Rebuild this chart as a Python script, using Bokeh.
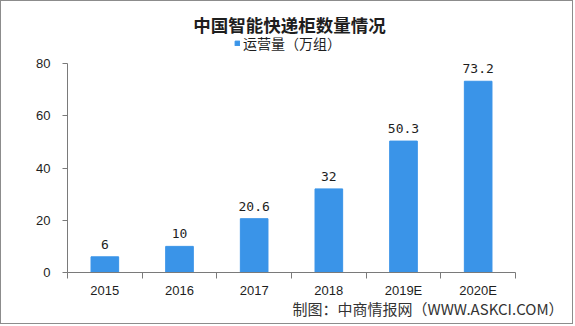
from bokeh.plotting import figure
from bokeh.models import (Range1d, FixedTicker, Label, LabelSet, ColumnDataSource,
                          Legend, LegendItem)
from bokeh.core.properties import value
from bokeh.embed import file_html
from bokeh.resources import INLINE

# ---- data ----
categories = ["2015", "2016", "2017", "2018", "2019E", "2020E"]
values = [6, 10, 20.6, 32, 50.3, 73.2]
value_labels = ["6", "10", "20.6", "32", "50.3", "73.2"]
y_ticks = [0, 20, 40, 60, 80]
title_text = "中国智能快递柜数量情况"
series_name = "运营量（万组）"
source_text = "制图：中商情报网（WWW.ASKCI.COM）"

BLUE = "#3a94e8"
AXIS = "#7a7a7a"
TXT = "#1e1e1e"

# layout (pixels)
W, H = 573, 324
LEFT, RIGHT = 66, 514          # frame left/right
AXIS_TOP, BOTTOM = 62, 271     # y of top tick, y of x-axis (canvas, from top)
y_end = y_ticks[-1] * BOTTOM / (BOTTOM - AXIS_TOP)

xs = [i + 0.5 for i in range(len(categories))]
src = ColumnDataSource(dict(x=xs, top=values, lab=value_labels, cat=categories))

p = figure(width=W, height=H, output_backend="svg", toolbar_location=None,
           x_range=Range1d(0, len(categories)), y_range=Range1d(0, y_end),
           min_border_left=LEFT, min_border_right=W - RIGHT, min_border_top=0,
           min_border_bottom=H - BOTTOM)
p.styles = {"border": "1px solid #8c8c8c"}
p.outline_line_color = None
p.xgrid.visible = False
p.ygrid.visible = False
p.background_fill_color = "white"
p.border_fill_color = "white"

r = p.vbar(x="x", top="top", width=0.37, source=src, color=BLUE)

# axes
xa = p.xaxis[0]
xa.ticker = FixedTicker(ticks=xs, minor_ticks=list(range(len(categories) + 1)))
xa.major_label_overrides = {x: c for x, c in zip(xs, categories)}
xa.major_tick_line_color = None
xa.major_tick_out = 0
xa.major_tick_in = 0
xa.minor_tick_out = 6
xa.minor_tick_in = 0
xa.minor_tick_line_color = AXIS
xa.axis_line_color = AXIS
xa.major_label_standoff = 4
xa.major_label_text_font = "Liberation Sans"
xa.major_label_text_font_size = "13px"
xa.major_label_text_color = TXT

ya = p.yaxis[0]
ya.ticker = FixedTicker(ticks=y_ticks)
ya.bounds = (y_ticks[0], y_ticks[-1])
ya.major_tick_out = 5
ya.major_tick_in = 0
ya.minor_tick_line_color = None
ya.major_tick_line_color = AXIS
ya.axis_line_color = AXIS
ya.major_label_standoff = 12
ya.major_label_text_font = "Liberation Sans"
ya.major_label_text_font_size = "13px"
ya.major_label_text_color = TXT

# value labels
ls = LabelSet(x="x", y="top", text="lab", source=src, text_align="center",
              text_baseline="bottom", y_offset=8, text_font=value("DejaVu Sans Mono"),
              text_font_size="13px", text_color=TXT)
p.add_layout(ls)

# legend
leg = Legend(items=[LegendItem(label=series_name, renderers=[r])],
             location=(167, 219), orientation="horizontal",
             glyph_width=6, glyph_height=6, label_standoff=3, padding=0,
             margin=0, spacing=0, label_height=14, border_line_color=None,
             background_fill_alpha=0, label_text_font="Noto Sans CJK SC",
             label_text_font_size="14px", label_text_color=TXT)
p.add_layout(leg)

# title
p.add_layout(Label(x=222, y=248, x_units="screen", y_units="screen", text=title_text,
                   text_align="center", text_baseline="middle",
                   text_font="Noto Sans CJK SC", text_font_size="17.5px",
                   text_font_style="bold", text_color=TXT))

# source (below panel)
p.add_layout(Label(x=225, y=13, x_units="screen", y_units="screen", text=source_text,
                   text_align="left", text_baseline="middle",
                   text_font="Noto Sans CJK SC", text_font_size="15px",
                   text_color="#333333"), "below")

open("out.html", "w").write(file_html(p, INLINE))
